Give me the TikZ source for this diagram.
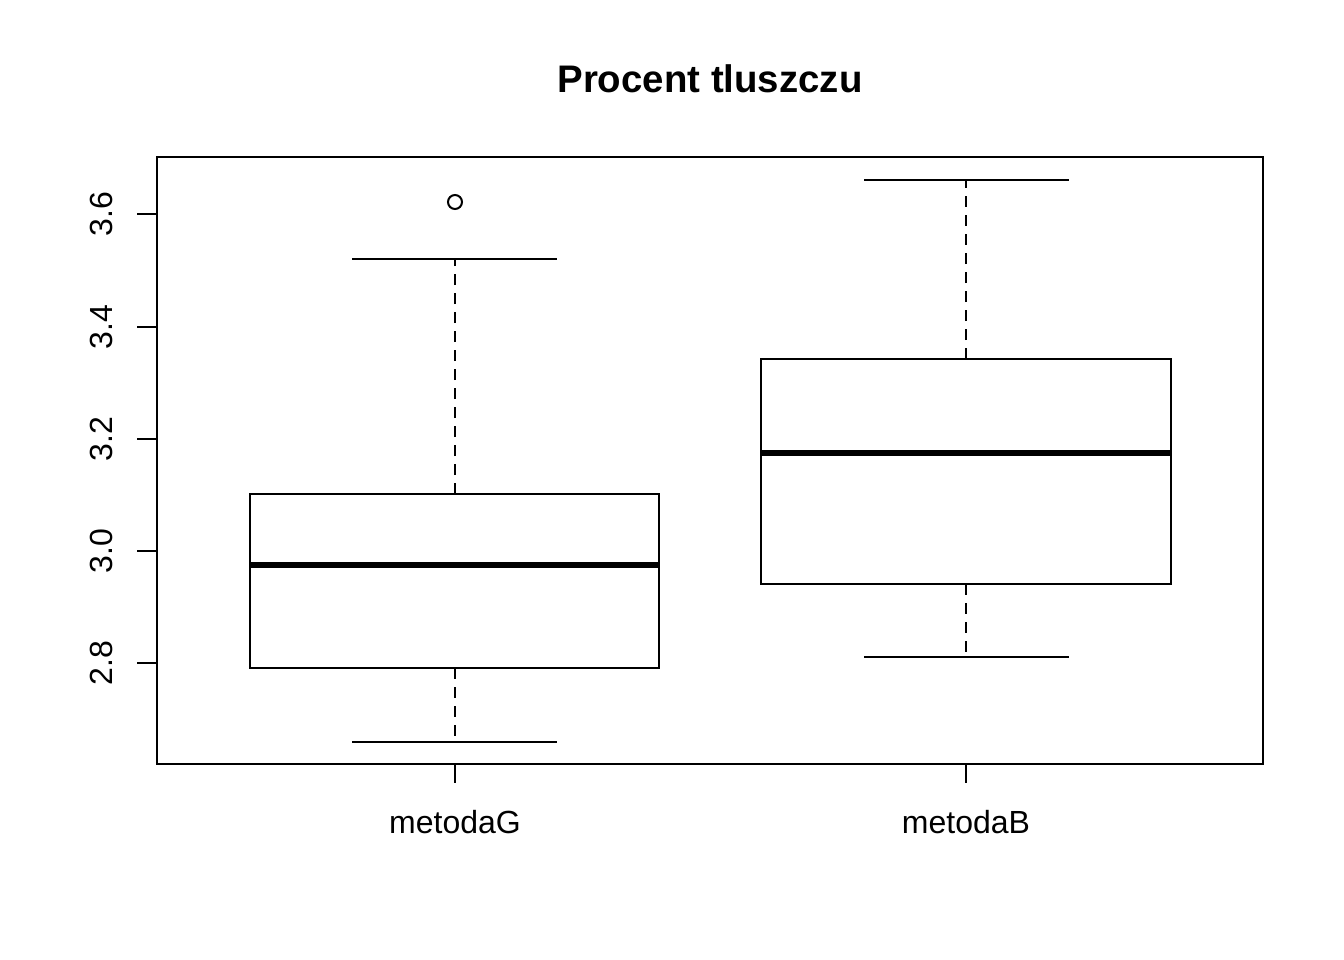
\documentclass[tikz,border=0pt]{standalone}
\usepackage{tikz}
\usepackage{fontspec}
\setmainfont{Liberation Sans}

\begin{document}
\begin{tikzpicture}[x=1pt,y=-1pt,line width=2pt,
	whisker/.style={dash pattern=on 11pt off 8pt},
	median/.style={line width=6pt},
	ticklabel/.style={font=\fontsize{32}{38}\selectfont,inner sep=0pt},
	boxtitle/.style={font=\fontsize{38.4}{46}\selectfont\bfseries,inner sep=0pt}]
	
	\useasboundingbox (0,0) rectangle (1344,960);
	\node [boxtitle, anchor=base] (title) at (710,93) {Procent tluszczu};
	
	%frame and axes
	\draw (157,157) rectangle (1263,764);
	\foreach \v/\y in {2.8/663,3.0/551,3.2/439,3.4/327,3.6/214}{
		\draw (157,\y) -- (137,\y);
		\node [ticklabel, rotate=90, anchor=base] at (112,\y) {\v};
	}
	\draw (455,764) -- (455,783);
	\draw (966,764) -- (966,783);
	\node [ticklabel, anchor=base] (labG) at (455,833) {metodaG};
	\node [ticklabel, anchor=base] (labB) at (966,833) {metodaB};
	
	%metodaG
	\draw (250,494) rectangle (659,668);
	\draw [median](250,565) -- (659,565);
	\draw [whisker](455,668) -- (455,742);
	\draw [whisker](455,494) -- (455,259);
	\draw (352,742) -- (557,742);
	\draw (352,259) -- (557,259);
	\draw (455,202) circle (7pt);
	
	%metodaB
	\draw (761,359) rectangle (1171,584);
	\draw [median](761,453) -- (1171,453);
	\draw [whisker](966,584) -- (966,657);
	\draw [whisker](966,359) -- (966,180);
	\draw (864,657) -- (1069,657);
	\draw (864,180) -- (1069,180);
\end{tikzpicture}
\end{document}
